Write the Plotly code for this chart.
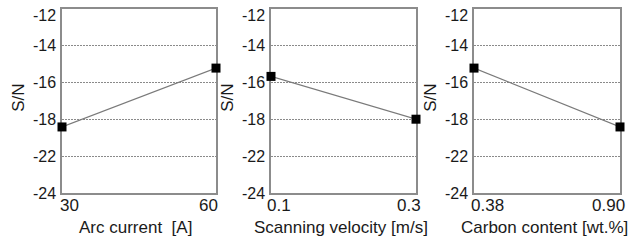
import plotly.graph_objects as go

# ---- data ----
arc_current = [30, 60]
arc_sn = [-18.42, -15.23]
scan_velocity = [0.1, 0.3]
scan_sn = [-15.68, -18.0]
carbon = [0.38, 0.90]
carbon_sn = [-15.23, -18.42]

arc_ticks = ["30", "60"]
scan_ticks = ["0.1", "0.3"]
carbon_ticks = ["0.38", "0.90"]

y_tickvals = [-12, -14, -16, -18, -20, -22]
y_ticktext = ["-12", "-14", "-16", "-18", "-22", "-24"]

x_titles = ["Arc current\u00a0 [A]", "Scanning velocity [m/s]", "Carbon content [wt.%]"]

# ---- layout / style ----
W, H = 630, 243
panels_px = [(62, 216), (271, 416), (474, 620)]
top_px, bot_px = 8.5, 193
xlab_shift = [(7, -8), (8, -7), (13, -12)]
title_shift = [-4, -3, -3]

FONT = "Liberation Sans, Arial, sans-serif"
TXT = "#1a1a1a"
fig = go.Figure()
series = [(arc_current, arc_sn, arc_ticks), (scan_velocity, scan_sn, scan_ticks),
          (carbon, carbon_sn, carbon_ticks)]

for i, (xs, ys, tks) in enumerate(series):
    n = "" if i == 0 else str(i + 1)
    xa, ya = "x" + n, "y" + n
    fig.add_trace(go.Scatter(
        x=xs, y=ys, mode="lines+markers",
        line=dict(color="#7a7a7a", width=1.2),
        marker=dict(symbol="square", size=9, color="black"),
        cliponaxis=False, showlegend=False, xaxis=xa, yaxis=ya))
    l, r = panels_px[i]
    fig.update_layout(**{
        "xaxis" + n: dict(
            domain=[l / W, r / W], range=[xs[0], xs[1]], automargin=False,
            showticklabels=False, showgrid=False, zeroline=False, layer="below traces",
            showline=True, mirror=True, linecolor="#8c8c8c", linewidth=1.5,
            ticks="", anchor=ya),
        "yaxis" + n: dict(
            domain=[(H - bot_px) / H, (H - top_px) / H], range=[-22, -12],
            automargin=False, showticklabels=False, layer="below traces",
            tickvals=y_tickvals,
            showgrid=True, gridcolor="#8a8a8a", gridwidth=1, griddash="1.5px,1.5px",
            zeroline=False, showline=True, mirror=True, linecolor="#8c8c8c",
            linewidth=1.5, ticks="", anchor=xa),
    })
    for j in range(2):
        fig.add_annotation(x=xs[j], y=0, xref=xa, yref=ya + " domain", text=tks[j],
                           showarrow=False, xanchor="center", yanchor="middle",
                           xshift=xlab_shift[i][j], yshift=-12,
                           font=dict(family=FONT, size=17, color=TXT))
    for v, t in zip(y_tickvals, y_ticktext):
        fig.add_annotation(x=0, y=v, xref=xa + " domain", yref=ya, text=t,
                           showarrow=False, xanchor="right", yanchor="middle",
                           xshift=-4, yshift=(-7 if v == -12 else 0),
                           font=dict(family=FONT, size=16, color=TXT))
    fig.add_annotation(x=0.5, y=0, xref=xa + " domain", yref=ya + " domain",
                       text=x_titles[i], showarrow=False, xanchor="center", yanchor="middle",
                       xshift=title_shift[i], yshift=-34,
                       font=dict(family=FONT, size=17, color=TXT))
    fig.add_annotation(x=0, y=0.5, xref=xa + " domain", yref=ya + " domain",
                       text="S/N", textangle=-90, showarrow=False,
                       xanchor="center", yanchor="middle", xshift=-43, yshift=3,
                       font=dict(family=FONT, size=17, color=TXT))

fig.update_layout(width=W, height=H, margin=dict(l=0, r=0, t=0, b=0),
                  paper_bgcolor="white", plot_bgcolor="white")
fig.write_html("out.html", config={"displayModeBar": False},
               post_script="document.body.style.margin='0';"
                           "document.documentElement.style.overflow='hidden';")
